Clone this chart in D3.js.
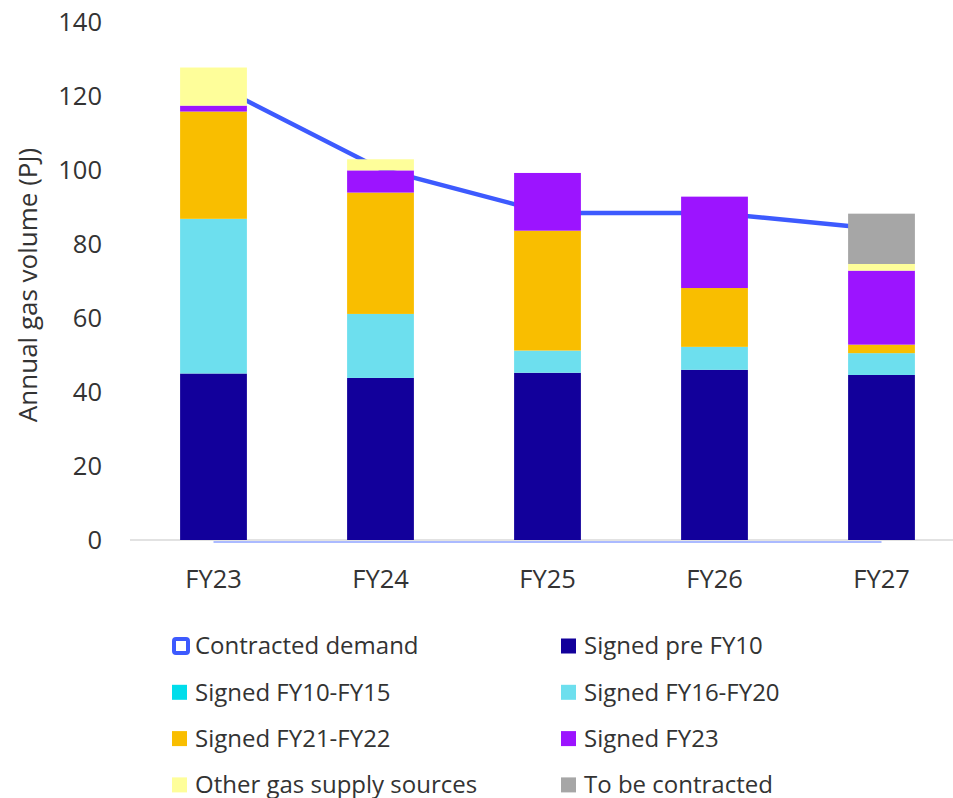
<!DOCTYPE html>
<html>
<head>
<meta charset="utf-8">
<script src="https://cdn.jsdelivr.net/npm/d3@7"></script>
<style>
  body { margin: 0; background: #fff; }
  svg { display: block; font-family: "Open Sans", "Noto Sans", sans-serif; }
</style>
</head>
<body>
<svg id="chart" width="953" height="798"></svg>
<script>
const categories = ["FY23", "FY24", "FY25", "FY26", "FY27"];
const seriesNames = ["Signed pre FY10", "Signed FY10-FY15", "Signed FY16-FY20", "Signed FY21-FY22", "Signed FY23", "Other gas supply sources", "To be contracted"];
const signedPreFY10   = [45.0, 43.8, 45.2, 46.0, 44.6];
const signedFY10FY15  = [0, 0, 0, 0, 0];
const signedFY16FY20  = [41.8, 17.3, 6.0, 6.2, 5.9];
const signedFY21FY22  = [29.0, 32.8, 32.4, 15.9, 2.3];
const signedFY23      = [1.6, 6.0, 15.6, 24.7, 20.0];
const otherSupply     = [10.3, 3.0, 0, 0, 1.8];
const toBeContracted  = [0, 0, 0, 0, 13.6];
const contractedDemand = [123.3, 100.3, 88.4, 88.4, 84.0];
const zeroLine = [0, 0, 0, 0, 0];
const yTicks = [0, 20, 40, 60, 80, 100, 120, 140];
const colors = ["#12009B", "#00DDEB", "#6DDFEE", "#F9BE00", "#9C14FF", "#FEFE9A", "#A6A6A6"];
const lineColor = "#3D5AFE";

const seriesValues = [signedPreFY10, signedFY10FY15, signedFY16FY20, signedFY21FY22, signedFY23, otherSupply, toBeContracted];
const rows = categories.map((c, i) => {
  const r = { cat: c };
  seriesNames.forEach((s, k) => r[s] = seriesValues[k][i]);
  return r;
});

const svg = d3.select("#chart");
const x = d3.scaleBand().domain(categories).range([130, 965]).paddingInner(0.6).paddingOuter(0.3);
const y = d3.scaleLinear().domain([0, 140]).range([540, 22]);
const textColor = "#333";

// baseline
svg.append("line").attr("x1", 130).attr("x2", 953).attr("y1", y(0)).attr("y2", y(0))
  .attr("stroke", "#d9d9d9").attr("stroke-width", 1.5);

// y axis
const yAxis = d3.axisLeft(y).tickValues(yTicks).tickSize(0).tickPadding(0).tickFormat(d3.format("d"));
const ya = svg.append("g").attr("transform", "translate(102,0)").call(yAxis);
ya.select(".domain").remove();
ya.selectAll("text").attr("font-size", 25.5).attr("fill", textColor).attr("font-family", "Open Sans, sans-serif");

// x axis
const xAxis = d3.axisBottom(x).tickSize(0).tickPadding(0);
const xa = svg.append("g").call(xAxis);
xa.select(".domain").remove();
xa.selectAll("text").attr("y", 588).attr("dy", 0)
  .attr("font-size", 25.5).attr("fill", textColor).attr("font-family", "Open Sans, sans-serif");

// y title
svg.append("text").attr("transform", "translate(37,285) rotate(-90)")
  .attr("text-anchor", "middle").attr("font-size", 26).attr("fill", textColor)
  .text("Annual gas volume (PJ)");

// line (behind bars)
const lineGen = d3.line().x((d, i) => x(categories[i]) + x.bandwidth() / 2).y(d => y(d));
svg.append("path").datum(contractedDemand).attr("d", lineGen)
  .attr("fill", "none").attr("stroke", lineColor).attr("stroke-width", 4.5);
svg.append("path").datum(zeroLine).attr("d", lineGen)
  .attr("transform", "translate(0,2)")
  .attr("fill", "none").attr("stroke", "#8fa3ff").attr("stroke-width", 1.5);

// bars
const stack = d3.stack().keys(seriesNames)(rows);
svg.append("g").selectAll("g").data(stack).join("g")
  .attr("fill", (d, i) => colors[i])
  .selectAll("rect").data(d => d).join("rect")
  .attr("x", d => x(d.data.cat))
  .attr("width", x.bandwidth())
  .attr("y", d => y(d[1]))
  .attr("height", d => Math.max(0, y(d[0]) - y(d[1])));

// legend
const legendItems = [{ name: "Contracted demand", line: true }].concat(seriesNames.map((s, i) => ({ name: s, color: colors[i] })));
const lg = svg.append("g");
legendItems.forEach((it, i) => {
  const col = i % 2, row = Math.floor(i / 2);
  const gx = col === 0 ? 172 : 561;
  const gy = 646 + row * 46.3;
  if (it.line) {
    lg.append("rect").attr("x", gx + 2).attr("y", gy - 7).attr("width", 14).attr("height", 14)
      .attr("rx", 2).attr("fill", "#fff").attr("stroke", lineColor).attr("stroke-width", 4);
  } else {
    lg.append("rect").attr("x", gx).attr("y", gy - 7.5).attr("width", 15).attr("height", 15).attr("fill", it.color);
  }
  lg.append("text").attr("x", gx + 23).attr("y", gy).attr("dy", "0.35em")
    .attr("font-size", 24).attr("fill", textColor).text(it.name);
});
</script>
</body>
</html>
